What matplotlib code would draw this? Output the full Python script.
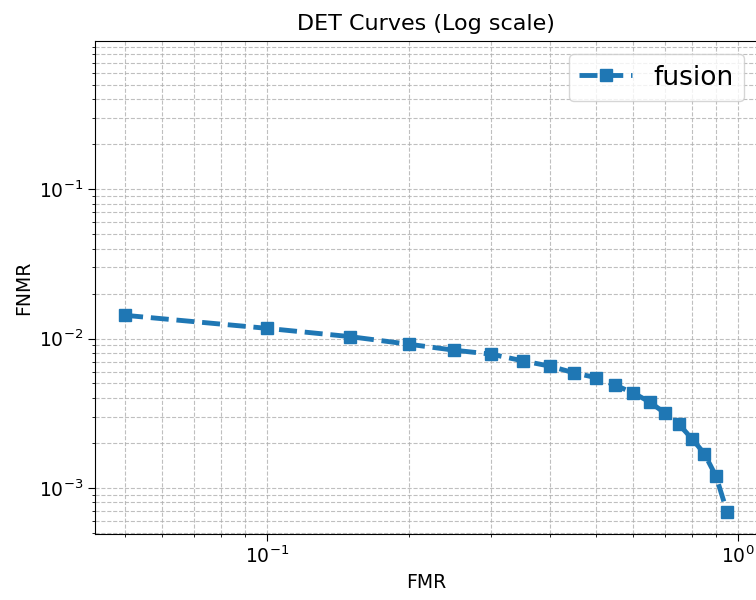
import matplotlib
matplotlib.use("Agg")
import matplotlib.pyplot as plt

fmr = [0.05, 0.10, 0.15, 0.20, 0.25, 0.30, 0.35, 0.40, 0.45, 0.50,
       0.55, 0.60, 0.65, 0.70, 0.75, 0.80, 0.85, 0.90, 0.95]
fnmr = [0.0143, 0.0117, 0.0103, 0.00916, 0.00835, 0.00785, 0.00708, 0.00652,
        0.00588, 0.00547, 0.00486, 0.00432, 0.00376, 0.00317, 0.00266,
        0.00213, 0.00169, 0.00119, 0.000686]

fig = plt.figure(figsize=(7.56, 6.0), dpi=100)
ax = fig.add_axes([0.1257, 0.11, 0.876, 0.8217])

ax.plot(fmr, fnmr, linestyle="--", marker="s", linewidth=3.5, markersize=8.5,
        color="#1f77b4", label="fusion")
ax.set_xscale("log")
ax.set_yscale("log")
ax.set_ylim(0.00049, 0.985)

ax.set_title("DET Curves (Log scale)", fontsize=16, pad=8)
ax.set_xlabel("FMR", fontsize=13.5)
ax.set_ylabel("FNMR", fontsize=13.5)
ax.tick_params(which="both", labelsize=13.5)
ax.tick_params(which="major", length=5)
ax.grid(True, which="both", linestyle="--", color="#b0b0b0", alpha=0.8)
ax.legend(loc="upper right", fontsize=19)

fig.savefig("out.png", dpi=100)
